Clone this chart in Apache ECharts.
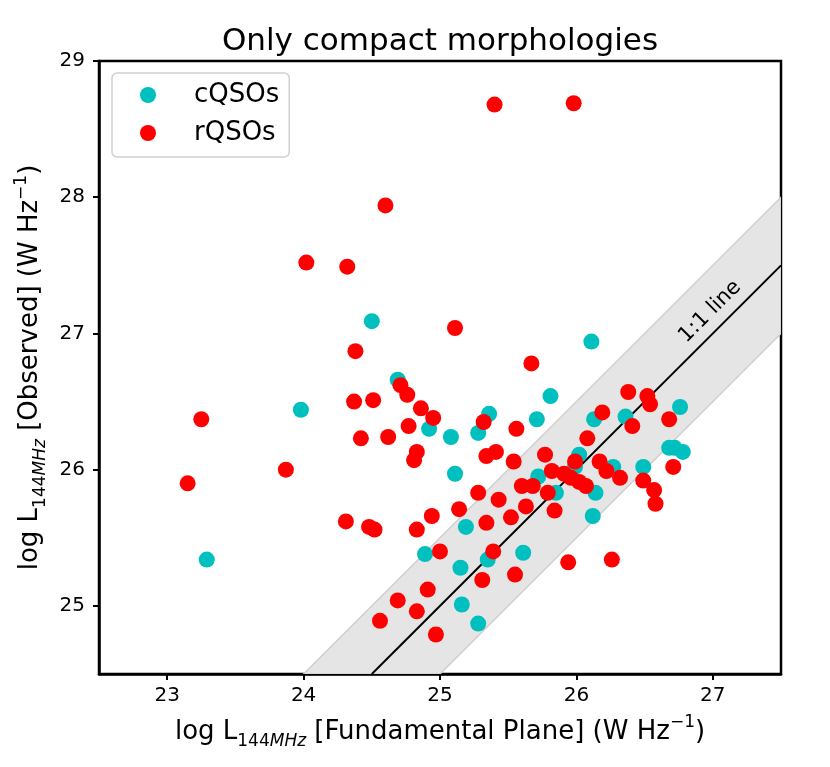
<!DOCTYPE html>
<html>
<head>
<meta charset="utf-8">
<script src="https://cdn.jsdelivr.net/npm/echarts@6/dist/echarts.min.js"></script>
<style>
html, body { margin: 0; padding: 0; background: #fff; }
#main { width: 830px; height: 767px; }
</style>
</head>
<body>
<div id="main"></div>
<script>
// axis setup
const X_RANGE = [22.5, 27.5]
const Y_RANGE = [24.5, 29]
const X_TICKS = [23, 24, 25, 26, 27]
const Y_TICKS = [25, 26, 27, 28, 29]

// 1:1 relation and its +/- band
const ONE_TO_ONE = [[24.5, 24.5], [27.5, 27.5]]
const BAND_HALF = 0.5

// [L_FP, L_observed]
const cqso = [
  [23.29, 25.34], [23.98, 26.44], [24.50, 27.09], [24.69, 26.66], [24.92, 26.30],
  [25.08, 26.24], [25.11, 25.97], [25.28, 26.27], [25.36, 26.41], [25.71, 26.37],
  [25.81, 26.54], [25.72, 25.95], [25.85, 25.83], [24.89, 25.38], [25.19, 25.58],
  [25.15, 25.28], [25.35, 25.34], [25.61, 25.39], [25.16, 25.01], [25.28, 24.87],
  [26.11, 26.94], [26.13, 26.37], [26.36, 26.39], [26.76, 26.46], [26.68, 26.16],
  [26.72, 26.16], [26.78, 26.13], [26.49, 26.02], [26.02, 26.11], [25.99, 26.02],
  [26.27, 26.02], [26.14, 25.83], [26.12, 25.66]
]

const rqso = [
  [24.60, 27.94], [24.02, 27.52], [24.32, 27.49], [24.38, 26.87], [25.40, 28.68],
  [25.98, 28.69], [25.11, 27.04], [25.67, 26.78], [23.25, 26.37], [23.15, 25.90],
  [23.87, 26.00], [24.37, 26.50], [24.51, 26.51], [24.71, 26.62], [24.76, 26.55],
  [24.86, 26.45], [24.95, 26.38], [24.77, 26.32], [24.42, 26.23], [24.62, 26.24],
  [24.83, 26.13], [24.81, 26.07], [24.31, 25.62], [24.48, 25.58], [24.52, 25.56],
  [24.83, 25.56], [24.94, 25.66], [25.00, 25.40], [24.91, 25.12], [24.69, 25.04],
  [24.83, 24.96], [24.56, 24.89], [24.97, 24.79], [25.32, 26.35], [25.56, 26.30],
  [25.34, 26.10], [25.41, 26.13], [25.54, 26.06], [25.77, 26.11], [25.82, 25.99],
  [25.60, 25.88], [25.68, 25.88], [25.79, 25.83], [25.28, 25.83], [25.43, 25.78],
  [25.14, 25.71], [25.34, 25.61], [25.52, 25.65], [25.63, 25.73], [25.84, 25.70],
  [25.39, 25.40], [25.94, 25.32], [25.31, 25.19], [25.55, 25.23], [26.26, 25.34],
  [26.38, 26.57], [26.52, 26.54], [26.54, 26.48], [26.19, 26.42], [26.68, 26.37],
  [26.41, 26.32], [26.08, 26.23], [25.99, 26.06], [26.17, 26.06], [26.22, 25.99],
  [26.32, 25.94], [25.91, 25.97], [25.96, 25.94], [26.02, 25.91], [26.07, 25.88],
  [26.71, 26.02], [26.49, 25.92], [26.57, 25.85], [26.58, 25.75]
]

const FONT = 'DejaVu Sans'
const nameRich = {
  subn: { fontSize: 17, fontFamily: FONT, color: '#000', lineHeight: 21, verticalAlign: 'bottom' },
  subi: { fontSize: 17, fontFamily: FONT, fontStyle: 'italic', color: '#000', lineHeight: 21, verticalAlign: 'bottom' },
  sup: { fontSize: 17, fontFamily: FONT, color: '#000', lineHeight: 17, verticalAlign: 'top' }
}

const chart = echarts.init(document.getElementById('main'), null, { renderer: 'canvas' })

function axisCommon(ticks) {
  return {
    type: 'value',
    nameLocation: 'middle',
    splitLine: { show: false },
    axisLine: { show: true, onZero: false, lineStyle: { color: '#000', width: 2.5 } },
    axisTick: { show: true, length: 6, inside: false, customValues: ticks, lineStyle: { color: '#000', width: 2 } },
    axisLabel: { customValues: ticks, fontSize: 20, fontFamily: FONT, color: '#000' },
    nameTextStyle: { fontSize: 26, fontFamily: FONT, color: '#000', lineHeight: 36, rich: nameRich }
  }
}

const xAxis = axisCommon(X_TICKS)
xAxis.min = X_RANGE[0]
xAxis.max = X_RANGE[1]
xAxis.name = 'log L{subn|144}{subi|MHz} [Fundamental Plane] (W Hz{sup|−1})'
xAxis.nameGap = 40
xAxis.axisLabel.margin = 12

const yAxis = axisCommon(Y_TICKS)
yAxis.min = Y_RANGE[0]
yAxis.max = Y_RANGE[1]
yAxis.name = 'log L{subn|144}{subi|MHz} [Observed] (W Hz{sup|−1})'
yAxis.nameGap = 43
yAxis.axisLabel.margin = 14

chart.setOption({
  animation: false,
  backgroundColor: '#fff',
  graphic: [{
    type: 'text', x: 440, y: 42, z: 10,
    style: { text: 'Only compact morphologies', fontSize: 31, fontFamily: FONT, fill: '#000', textAlign: 'center', textVerticalAlign: 'middle' }
  }],
  grid: { left: 99, top: 61, width: 682, height: 613, show: true, borderColor: '#000', borderWidth: 2.5, containLabel: false, outerBoundsMode: 'none' },
  legend: {
    data: ['cQSOs', 'rQSOs'],
    orient: 'vertical',
    left: 112, top: 73,
    padding: [9, 10, 11, 28],
    itemGap: 12,
    itemWidth: 16, itemHeight: 16,
    icon: 'circle',
    borderColor: '#d0d0d0', borderWidth: 1.5, borderRadius: 5,
    backgroundColor: 'rgba(255,255,255,0.8)',
    textStyle: { fontSize: 26, fontFamily: FONT, color: '#000', padding: [0, 0, 0, 33], lineHeight: 26 }
  },
  xAxis: xAxis,
  yAxis: yAxis,
  series: [
    {
      type: 'custom', name: 'band', z: 1, silent: true, clip: true,
      data: [0],
      renderItem: function (params, api) {
        const y0 = Y_RANGE[0], x1 = X_RANGE[1], h = BAND_HALF
        const pts = [[y0 - h, y0], [x1, x1 + h], [x1, x1 - h], [y0 + h, y0]].map(p => api.coord(p))
        return {
          type: 'polygon',
          shape: { points: pts },
          style: { fill: '#e5e5e5', stroke: '#cfcfcf', lineWidth: 1.5 }
        }
      }
    },
    {
      type: 'line', name: '1:1', z: 2, silent: true,
      data: ONE_TO_ONE, showSymbol: false,
      lineStyle: { color: '#000', width: 2 }
    },
    {
      type: 'custom', name: 'label', z: 3, silent: true,
      data: [0],
      renderItem: function (params, api) {
        const p = api.coord([26.98, 27.16])
        return {
          type: 'text', x: p[0], y: p[1], rotation: Math.PI / 4,
          style: { text: '1:1 line', fontSize: 21, fontFamily: FONT, fill: '#000', textAlign: 'center', textVerticalAlign: 'middle' }
        }
      }
    },
    {
      type: 'scatter', name: 'cQSOs', z: 4,
      data: cqso, symbolSize: 16,
      itemStyle: { color: '#00bfbf', opacity: 1 }
    },
    {
      type: 'scatter', name: 'rQSOs', z: 5,
      data: rqso, symbolSize: 16,
      itemStyle: { color: '#ff0000', opacity: 1 }
    }
  ]
})
</script>
</body>
</html>
